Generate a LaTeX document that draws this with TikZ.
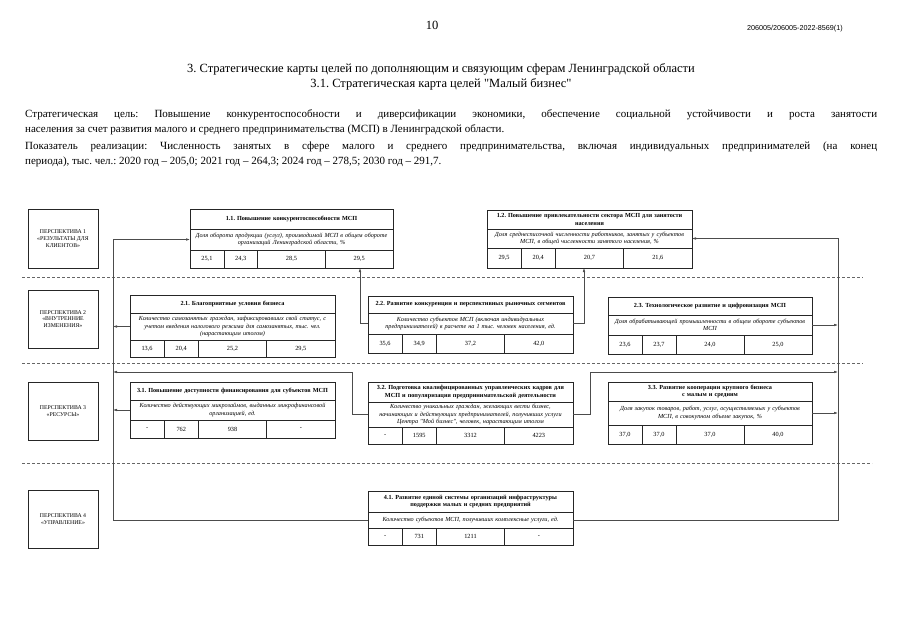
\documentclass[tikz,border=0pt]{standalone}
\usepackage{fontspec}
\setmainfont{Liberation Serif}[Ligatures=TeXOff]
\newfontfamily\codefont{Liberation Sans}
\usetikzlibrary{arrows.meta,calc}
\frenchspacing

\tikzset{
  cell/.style={draw=black!85, line width=0.6pt, inner sep=0pt, outer sep=0pt, rectangle, anchor=north west},
  cellline/.style={draw=black!85, line width=0.6pt},
  hdr/.style={font=\fontsize{6.2}{7.3}\selectfont\bfseries, align=center, text width=200pt, inner sep=0pt},
  itl/.style={font=\fontsize{6.2}{7.4}\selectfont\itshape, align=center, text width=200pt, inner sep=0pt},
  val/.style={font=\fontsize{6.3}{7.3}\selectfont, inner sep=0pt},
  pbox/.style={draw=black!85, line width=0.6pt, minimum width=70pt, minimum height=58pt, align=center, inner sep=1pt, outer sep=0pt, font=\fontsize{5.8}{6.8}\selectfont},
  arr/.style={line width=0.6pt, draw=black!70, -{Latex[length=4pt,width=2.6pt]}},
  sepline/.style={dash pattern=on 3pt off 2pt, line width=0.6pt, draw=black!60},
  bodytext/.style={font=\fontsize{11}{13}\selectfont, inner sep=0pt, anchor=base west},
  titletext/.style={font=\fontsize{12.5}{15}\selectfont, inner sep=0pt, anchor=base}
}

% table frame: name, L, R, T, H(header bottom), I(italic bottom), B
\newcommand\tblbox[7]{%
  \node[cell, minimum width={(#3-#2)*1pt}, minimum height={(#5-#4)*1pt}] (#1-h) at (#2,#4) {};
  \node[cell, minimum width={(#3-#2)*1pt}, minimum height={(#6-#5)*1pt}] (#1-i) at (#2,#5) {};
  \node[cell, minimum width={(#3-#2)*1pt}, minimum height={(#7-#6)*1pt}] (#1-n) at (#2,#6) {};
  \foreach \f in {1/6,2/6,4/6}{%
    \draw[cellline] ($(#1-n.north west)!\f!(#1-n.north east)$) -- ($(#1-n.south west)!\f!(#1-n.south east)$);
  }%
}
% table text: name, header, italic, v1..v4
\newcommand\tbltext[7]{%
  \node[hdr] at (#1-h.center) {#2};
  \node[itl] at (#1-i.center) {#3};
  \node[val] at ($(#1-n.west)!1/12!(#1-n.east)$) {#4};
  \node[val] at ($(#1-n.west)!3/12!(#1-n.east)$) {#5};
  \node[val] at ($(#1-n.west)!6/12!(#1-n.east)$) {#6};
  \node[val] at ($(#1-n.west)!10/12!(#1-n.east)$) {#7};
}

\begin{document}
\begin{tikzpicture}[x=1pt,y=-1pt]
\useasboundingbox (0,0) rectangle (903,640);
\fill[white] (0,0) rectangle (903,640);

% page header
\node[titletext] (pagenum) at (432,29) {10};
\node[font=\codefont\fontsize{7.2}{8}\selectfont, inner sep=0pt, anchor=base east] (code) at (843,30) {206005/206005-2022-8569(1)};
\node[titletext] (title1) at (441,72) {3. Стратегические карты целей по дополняющим и связующим сферам Ленинградской области};
\node[titletext] (title2) at (441,87) {3.1. Стратегическая карта целей "Малый бизнес"};

\node[bodytext] (l1) at (25,117) {\makebox[852pt][s]{Стратегическая цель: Повышение конкурентоспособности и диверсификации экономики, обеспечение социальной устойчивости и роста занятости}};
\node[bodytext] (l2) at (25,132.5) {населения за счет развития малого и среднего предпринимательства (МСП) в Ленинградской области.};
\node[bodytext] (l3) at (25,149) {\makebox[852pt][s]{Показатель реализации: Численность занятых в сфере малого и среднего предпринимательства, включая индивидуальных предпринимателей (на конец}};
\node[bodytext] (l4) at (25,164.5) {периода), тыс. чел.: 2020 год – 205,0; 2021 год – 264,3; 2024 год – 278,5; 2030 год – 291,7.};

% perspective separators
\draw[sepline] (22,277) -- (863,277);
\draw[sepline] (22,363) -- (863,363);
\draw[sepline] (22,463) -- (872,463);

% perspective boxes
\node[pbox, minimum height=59pt] (p1) at (63,238.5) {ПЕРСПЕКТИВА 1\\«РЕЗУЛЬТАТЫ ДЛЯ\\КЛИЕНТОВ»};
\node[pbox] (p2) at (63,319) {ПЕРСПЕКТИВА 2\\«ВНУТРЕННИЕ\\ИЗМЕНЕНИЯ»};
\node[pbox] (p3) at (63,411) {ПЕРСПЕКТИВА 3\\«РЕСУРСЫ»};
\node[pbox] (p4) at (63,519) {ПЕРСПЕКТИВА 4\\«УПРАВЛЕНИЕ»};

% tables
\tblbox{t11}{190}{393}{209}{229}{250}{268}
\tbltext{t11}{1.1. Повышение конкурентоспособности МСП}{Доля оборота продукции (услуг), производимой МСП в общем обороте\\организаций Ленинградской области, \%}{25,1}{24,3}{28,5}{29,5}

\tblbox{t12}{487}{692}{210}{229}{248}{268}
\tbltext{t12}{1.2. Повышение привлекательности сектора МСП для занятости\\населения}{Доля среднесписочной численности работников, занятых у субъектов\\МСП, в общей численности занятого населения, \%}{29,5}{20,4}{20,7}{21,6}

\tblbox{t21}{130}{335}{295}{313}{340}{357}
\tbltext{t21}{2.1. Благоприятные условия бизнеса}{Количество самозанятых граждан, зафиксировавших свой статус, с\\учетом введения налогового режима для самозанятых, тыс. чел.\\(нарастающим итогом)}{13,6}{20,4}{25,2}{29,5}

\tblbox{t22}{368}{573}{296}{313}{334}{353}
\tbltext{t22}{2.2. Развитие конкуренции и перспективных рыночных сегментов}{Количество субъектов МСП (включая индивидуальных\\предпринимателей) в расчете на 1 тыс. человек населения, ед.}{35,6}{34,9}{37,2}{42,0}

\tblbox{t23}{608}{812}{297}{315}{335}{354}
\tbltext{t23}{2.3. Технологическое развитие и цифровизация МСП}{Доля обрабатывающей промышленности в общем обороте субъектов\\МСП}{23,6}{23,7}{24,0}{25,0}

\tblbox{t31}{130}{335}{382}{400}{420}{438}
\tbltext{t31}{3.1. Повышение доступности финансирования для субъектов МСП}{Количество действующих микрозаймов, выданных микрофинансовой\\организацией, ед.}{-}{762}{938}{-}

\tblbox{t32}{368}{573}{382}{402}{427}{444}
\tbltext{t32}{3.2. Подготовка квалифицированных управленческих кадров для\\МСП и популяризация предпринимательской деятельности}{Количество уникальных граждан, желающих вести бизнес,\\начинающих и действующих предпринимателей, получивших услуги\\Центра "Мой бизнес", человек, нарастающим итогом}{-}{1595}{3312}{4223}

\tblbox{t33}{608}{812}{382}{401}{425}{444}
\tbltext{t33}{3.3. Развитие кооперации крупного бизнеса\\с малым и средним}{Доля закупок товаров, работ, услуг, осуществляемых у субъектов\\МСП, в совокупном объеме закупок, \%}{37,0}{37,0}{37,0}{40,0}

\tblbox{t41}{368}{573}{491}{512}{528}{545}
\tbltext{t41}{4.1. Развитие единой системы организаций инфраструктуры\\поддержки малых и средних предприятий}{Количество субъектов МСП, получивших комплексные услуги, ед.}{-}{731}{1211}{-}

% trunk and bend coordinates
\coordinate (tl) at (113,300);
\coordinate (tr) at (838,300);
\coordinate (b1) at (360,300);
\coordinate (b2) at (584,300);
\coordinate (b3) at (352,372);
\coordinate (b4) at (590,372);

% connectors
\draw[arr] (t41-i.west) -| (tl |- t11-i.west) -- (t11-i.west);
\draw[arr] (t41-i.east) -| (tr |- t12-i.east) -- (t12-i.east);
\draw[arr] (t21-i.west) -- (t21-i.west -| tl);
\draw[arr] (t31-i.west) -- (t31-i.west -| tl);
\draw[arr] (t23-i.east) -- (t23-i.east -| tr);
\draw[arr] (t33-i.east) -- (t33-i.east -| tr);
\draw[arr] (t22-i.west) -| (b1 |- t11-n.south);
\draw[arr] (t22-i.east) -| (b2 |- t12-n.south);
\draw[arr] (t32-i.west) -| (b3) -- (b3 -| tl);
\draw[arr] (t32-i.east) -| (b4) -- (b4 -| tr);
\end{tikzpicture}
\end{document}
